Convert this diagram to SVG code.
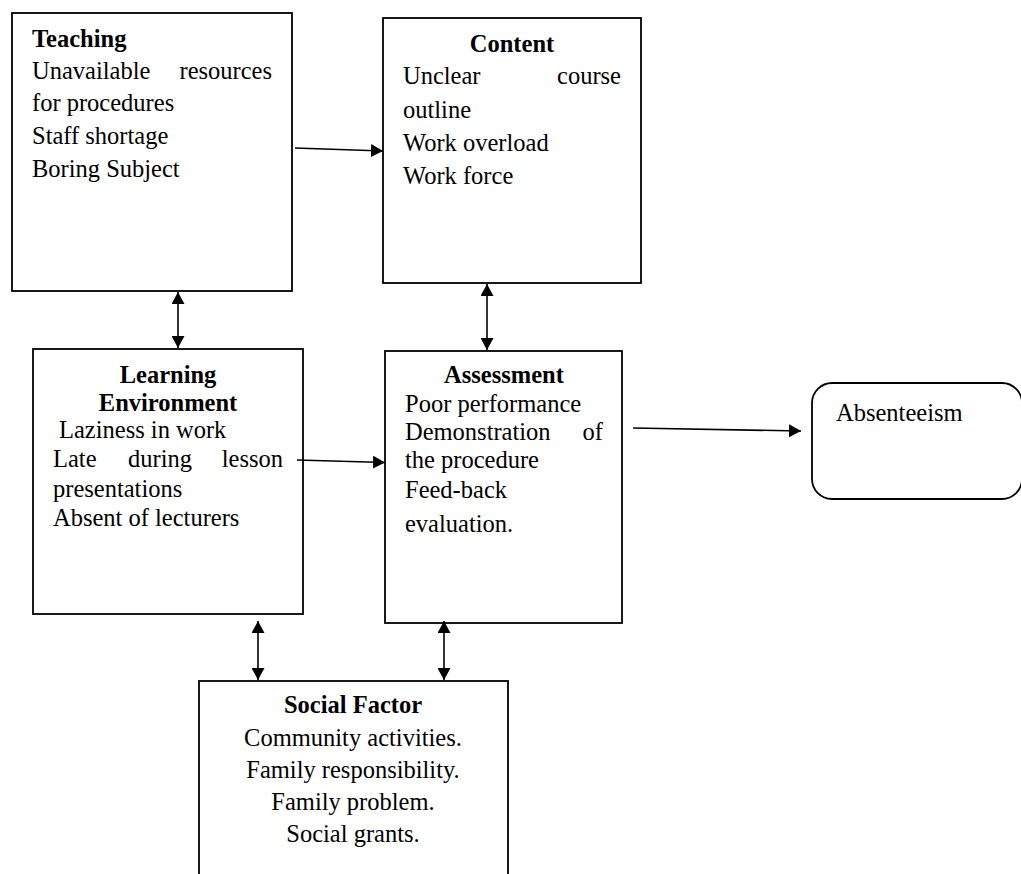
<svg xmlns="http://www.w3.org/2000/svg" width="1021" height="874" viewBox="0 0 1021 874">
<style>
.box{fill:#fff;stroke:#000;stroke-width:1.8}
.t{font-family:"Liberation Serif","Times New Roman",serif;font-size:24.5px;fill:#000}
.b{font-weight:bold}
.c{text-anchor:middle}
.e{text-anchor:end}
.conn{stroke:#000;stroke-width:1.6;fill:none}
</style>
<defs>
<marker id="ah" markerUnits="userSpaceOnUse" markerWidth="13" markerHeight="13" refX="12" refY="6.5" orient="auto-start-reverse">
<path d="M0,0 L12,6.5 L0,13 z" fill="#000"/>
</marker>
</defs>
<rect width="1021" height="874" fill="#fff"/>
<g id="teaching">
<rect class="box" x="12" y="13" width="280" height="278"/>
<text class="t b" x="32" y="47">Teaching</text>
<text class="t" x="32" y="79">Unavailable</text>
<text class="t e" x="272" y="79">resources</text>
<text class="t" x="32" y="111">for procedures</text>
<text class="t" x="32" y="144">Staff shortage</text>
<text class="t" x="32" y="177">Boring Subject</text>
</g>
<g id="content">
<rect class="box" x="383" y="18" width="258" height="265"/>
<text class="t b c" x="512" y="52">Content</text>
<text class="t" x="403" y="84">Unclear</text>
<text class="t e" x="621" y="84">course</text>
<text class="t" x="403" y="118">outline</text>
<text class="t" x="403" y="151">Work overload</text>
<text class="t" x="403" y="184">Work force</text>
</g>
<g id="learning">
<rect class="box" x="33" y="349" width="270" height="265"/>
<text class="t b c" x="168" y="383">Learning</text>
<text class="t b c" x="168" y="411">Environment</text>
<text class="t" x="59" y="438">Laziness in work</text>
<text class="t" x="53" y="467">Late</text>
<text class="t c" x="160" y="467">during</text>
<text class="t e" x="283" y="467">lesson</text>
<text class="t" x="53" y="497">presentations</text>
<text class="t" x="53" y="526">Absent of lecturers</text>
</g>
<g id="assessment">
<rect class="box" x="385" y="351" width="237" height="272"/>
<text class="t b c" x="504" y="383">Assessment</text>
<text class="t" x="405" y="412">Poor performance</text>
<text class="t" x="405" y="440">Demonstration</text>
<text class="t e" x="603" y="440">of</text>
<text class="t" x="405" y="468">the procedure</text>
<text class="t" x="405" y="498">Feed-back</text>
<text class="t" x="405" y="532">evaluation.</text>
</g>
<g id="absenteeism">
<rect class="box" x="812" y="383" width="210" height="116" rx="20" ry="20"/>
<text class="t" x="836" y="421">Absenteeism</text>
</g>
<g id="social">
<rect class="box" x="199" y="681" width="309" height="220"/>
<text class="t b c" x="353" y="713">Social Factor</text>
<text class="t c" x="353" y="746">Community activities.</text>
<text class="t c" x="353" y="778">Family responsibility.</text>
<text class="t c" x="353" y="810">Family problem.</text>
<text class="t c" x="353" y="842">Social grants.</text>
</g>
<g id="connectors">
<line class="conn" x1="295" y1="148" x2="383" y2="151" marker-end="url(#ah)"/>
<line class="conn" x1="297" y1="460" x2="385" y2="462.5" marker-end="url(#ah)"/>
<line class="conn" x1="633" y1="428" x2="801" y2="431" marker-end="url(#ah)"/>
<line class="conn" x1="178" y1="292" x2="178" y2="348" marker-start="url(#ah)" marker-end="url(#ah)"/>
<line class="conn" x1="487" y1="284" x2="487" y2="350" marker-start="url(#ah)" marker-end="url(#ah)"/>
<line class="conn" x1="258" y1="621" x2="258" y2="680" marker-start="url(#ah)" marker-end="url(#ah)"/>
<line class="conn" x1="444" y1="621" x2="444" y2="680" marker-start="url(#ah)" marker-end="url(#ah)"/>
</g>
</svg>
